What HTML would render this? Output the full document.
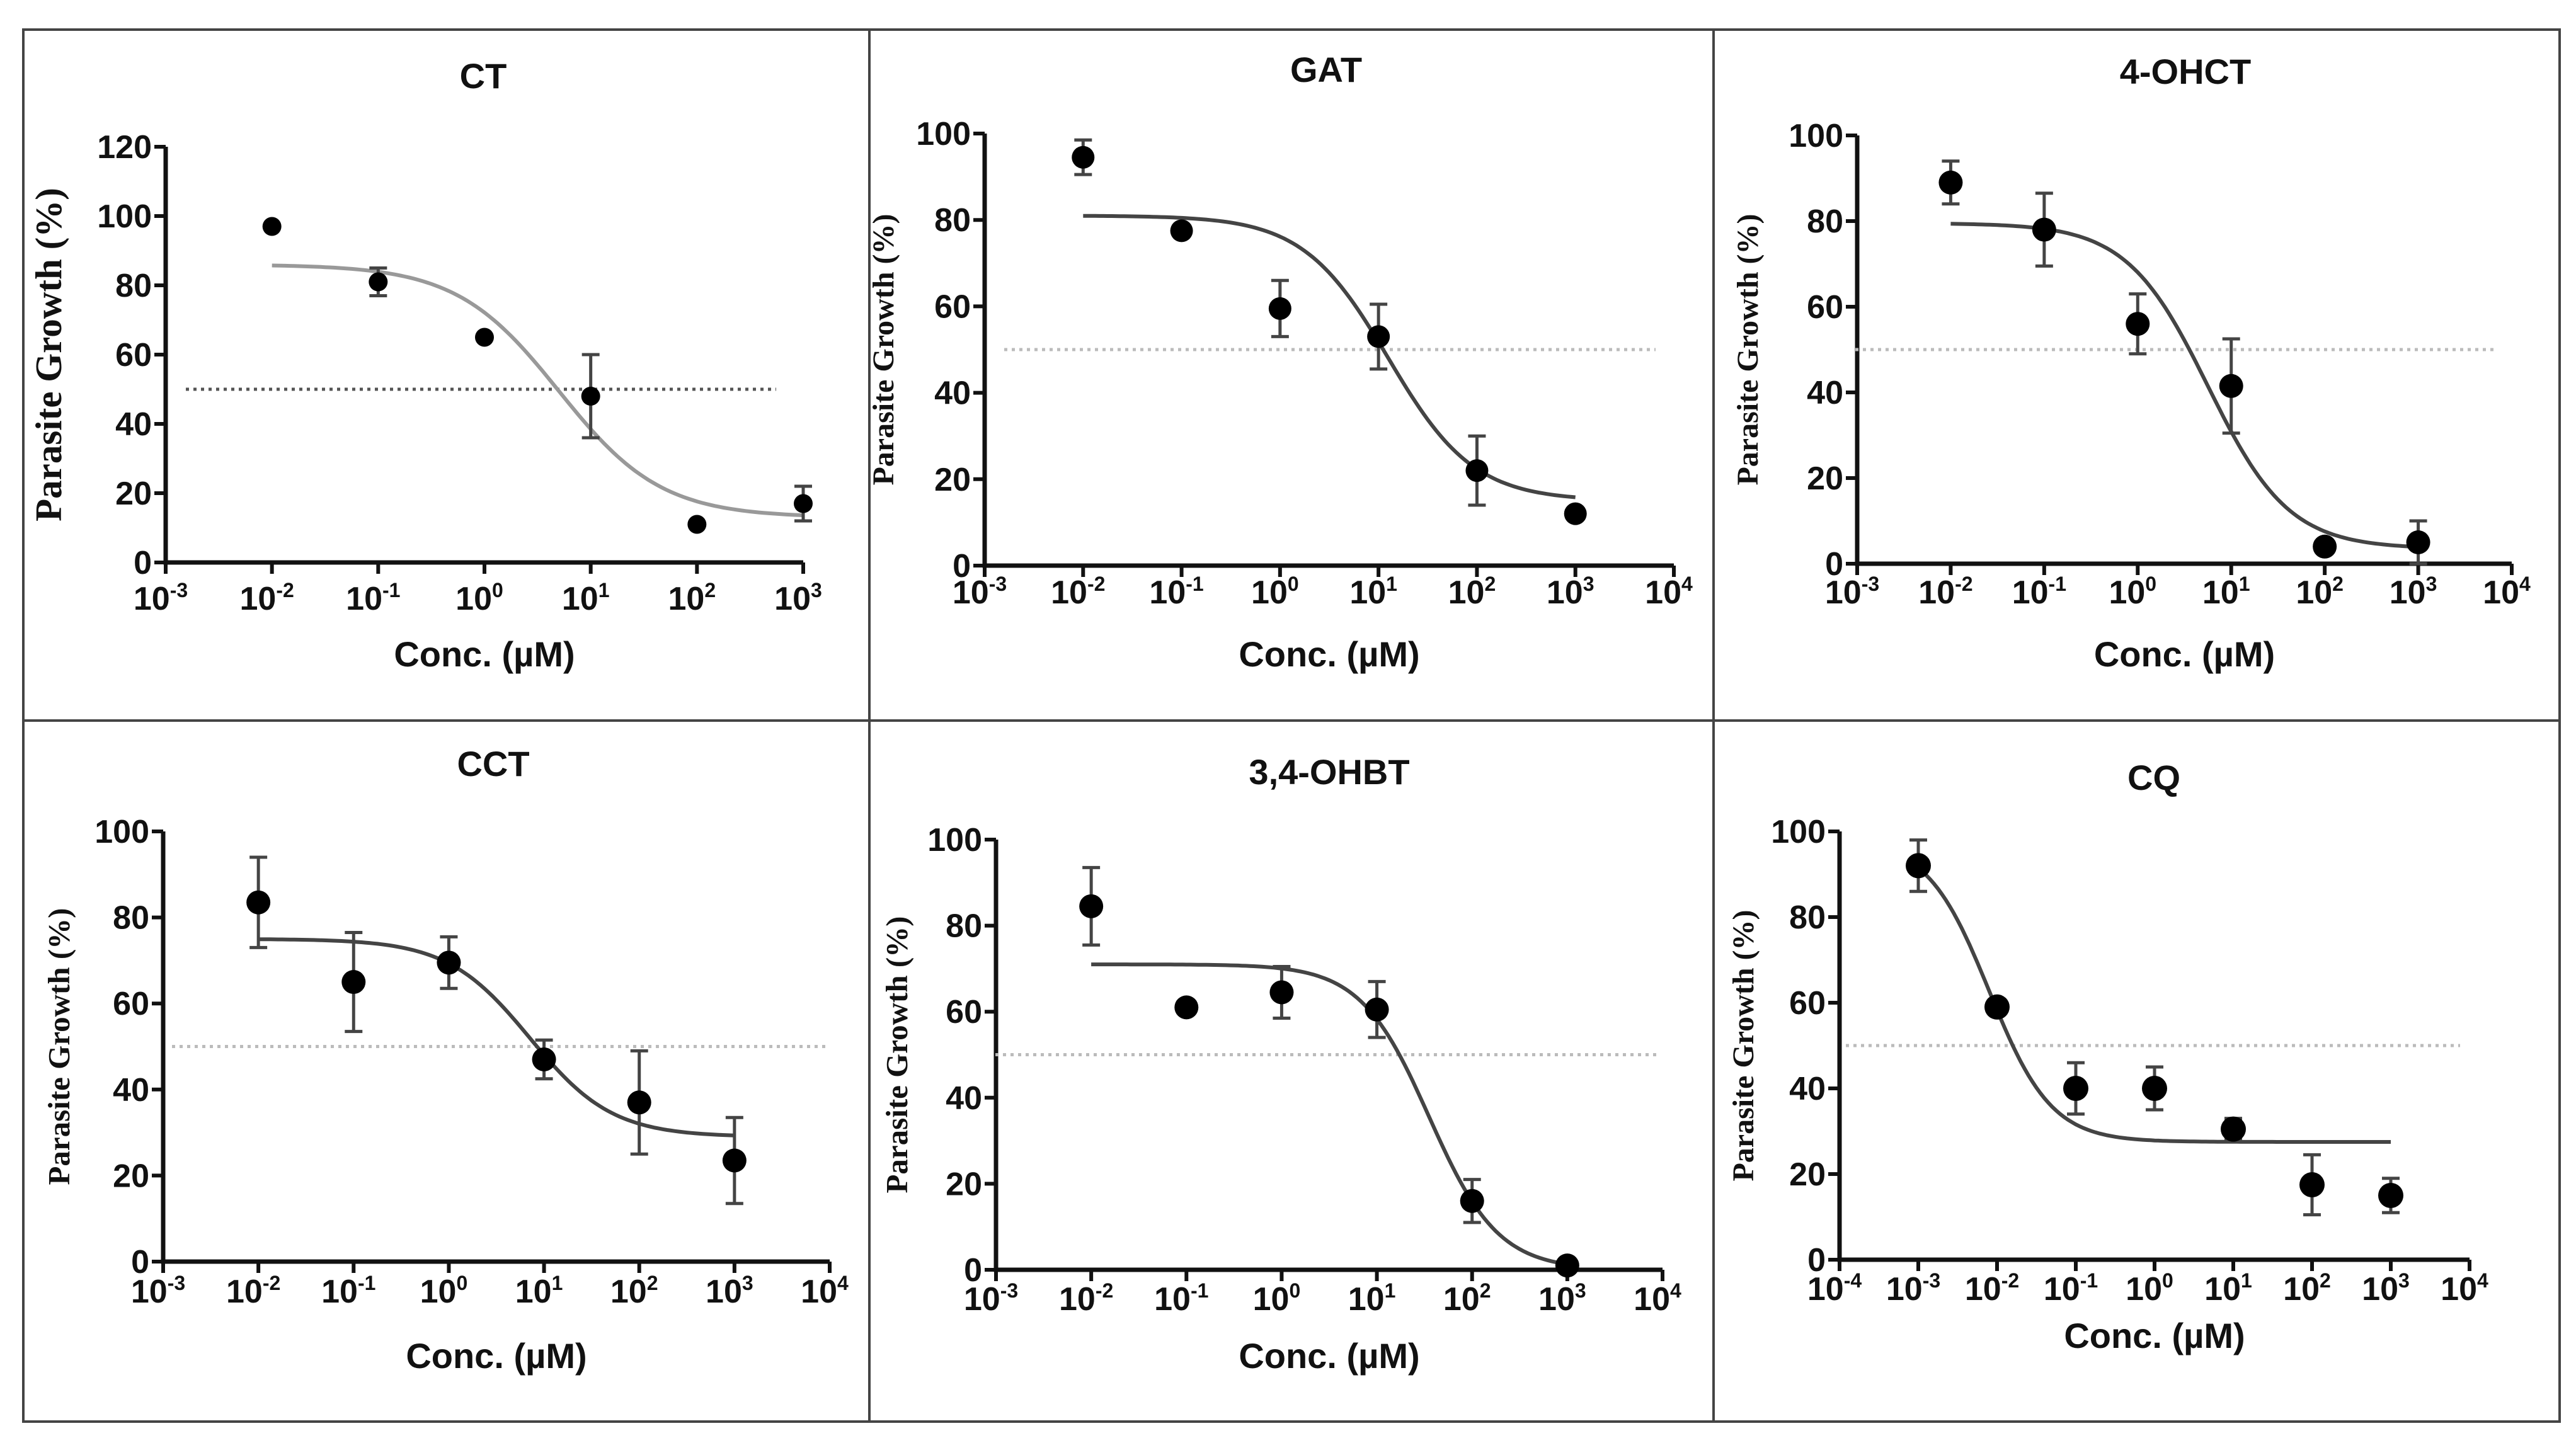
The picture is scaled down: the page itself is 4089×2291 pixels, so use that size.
<!DOCTYPE html>
<html><head><meta charset="utf-8"><style>
html,body{margin:0;padding:0;background:#fff}
svg{display:block}
text{font-family:"Liberation Sans",sans-serif;font-weight:bold;fill:#111}
.yl{font-family:"Liberation Serif",serif}
</style></head><body>
<svg id="fig" width="4089" height="2291" viewBox="0 0 4089 2291" xmlns="http://www.w3.org/2000/svg">
<rect x="0" y="0" width="4089" height="2291" fill="#fff"/>
<g stroke="#444" stroke-width="4" fill="none">
<rect x="37" y="47" width="4026" height="2210"/>
<line x1="1380" y1="47" x2="1380" y2="2257"/>
<line x1="2720" y1="47" x2="2720" y2="2257"/>
<line x1="37" y1="1144" x2="4063" y2="1144"/>
</g>
</svg>
<script>
// data per panel
const ctX=[-2,-1,0,1,2,3];
const ctY=[97,81,65,48,11,17];
const ctErr=[0,4,0,12,0,5];
const ctFit=[86,13,0.7,0.9];
const gatX=[-2,-1,0,1,2,3];
const gatY=[94.5,77.5,59.5,53,22,12];
const gatErr=[4,0,6.5,7.5,8,0];
const gatFit=[81,15,1.1,1.0];
const ohctX=[-2,-1,0,1,2,3];
const ohctY=[89,78,56,41.5,4,5];
const ohctErr=[5,8.5,7,11,0,5];
const ohctFit=[79.5,3.5,0.75,1.0];
const cctX=[-2,-1,0,1,2,3];
const cctY=[83.5,65,69.5,47,37,23.5];
const cctErr=[10.5,11.5,6,4.5,12,10];
const cctFit=[75,29,0.85,1.0];
const ohbtX=[-2,-1,0,1,2,3];
const ohbtY=[84.5,61,64.5,60.5,16,1];
const ohbtErr=[9,0,6,6.5,5,0];
const ohbtFit=[71,0,1.55,1.2];
const cqX=[-3,-2,-1,0,1,2,3];
const cqY=[92,59,40,40,30.5,17.5,15];
const cqErr=[6,0,6,5,2.5,7,4];
const cqFit=[98,27.5,-2.1,1.1];
const ctYTicks=[0,20,40,60,80,100,120];
const stdYTicks=[0,20,40,60,80,100];

const panels=[
 {name:'ct',title:'CT',x0:263,x1:1275,emin:-3,emax:3,y0:893,yT:233,ymax:120,yticks:ctYTicks,xs:ctX,ys:ctY,es:ctErr,fit:ctFit,tx:767,ty:140,xly:1058,tly:968,ylx:97,dot0:295,dot1:1232,curve:'#999',r:15,ylab:'Parasite Growth (%)',yls:59},
 {name:'gat',title:'GAT',x0:1563,x1:2657,emin:-3,emax:4,y0:898,yT:212,ymax:100,yticks:stdYTicks,xs:gatX,ys:gatY,es:gatErr,fit:gatFit,tx:2105,ty:130,xly:1058,tly:958,ylx:1418,dot0:1594,dot1:2628,curve:'#444',r:18,ylab:'Parasite Growth (%)',yls:48},
 {name:'ohct',title:'4-OHCT',x0:2948,x1:3987,emin:-3,emax:4,y0:895,yT:215,ymax:100,yticks:stdYTicks,xs:ohctX,ys:ohctY,es:ohctErr,fit:ohctFit,tx:3469,ty:133,xly:1058,tly:958,ylx:2790,dot0:2945,dot1:3960,curve:'#444',r:19,ylab:'Parasite Growth (%)',yls:48},
 {name:'cct',title:'CCT',x0:259,x1:1317,emin:-3,emax:4,y0:2003,yT:1320,ymax:100,yticks:stdYTicks,xs:cctX,ys:cctY,es:cctErr,fit:cctFit,tx:783,ty:1232,xly:2172,tly:2068,ylx:110,dot0:273,dot1:1311,curve:'#444',r:19,ylab:'Parasite Growth (%)',yls:49},
 {name:'ohbt',title:'3,4-OHBT',x0:1581,x1:2639,emin:-3,emax:4,y0:2016,yT:1333,ymax:100,yticks:stdYTicks,xs:ohbtX,ys:ohbtY,es:ohbtErr,fit:ohbtFit,tx:2110,ty:1245,xly:2172,tly:2080,ylx:1440,dot0:1580,dot1:2630,curve:'#444',r:19,ylab:'Parasite Growth (%)',yls:49},
 {name:'cq',title:'CQ',x0:2920,x1:3920,emin:-4,emax:4,y0:2000,yT:1320,ymax:100,yticks:stdYTicks,xs:cqX,ys:cqY,es:cqErr,fit:cqFit,tx:3419,ty:1254,xly:2140,tly:2064,ylx:2783,dot0:2930,dot1:3905,curve:'#444',r:20,ylab:'Parasite Growth (%)',yls:48}
];
const NS='http://www.w3.org/2000/svg';
const svg=document.getElementById('fig');
function mk(tag,attrs,parent){const e=document.createElementNS(NS,tag);for(const k in attrs)e.setAttribute(k,attrs[k]);parent.appendChild(e);return e;}
panels.forEach(p=>{
 const g=mk('g',{},svg);
 
 
 const xs=v=>p.x0+(v-p.emin)/(p.emax-p.emin)*(p.x1-p.x0);
 const ys=v=>p.y0-v/p.ymax*(p.y0-p.yT);
 const t=mk('text',{x:p.tx,y:p.ty,'text-anchor':'middle','font-size':56},g);t.textContent=p.title;
 
 
 const ax=mk('path',{d:`M${p.x0} ${p.yT}V${p.y0}H${p.x1}`,stroke:'#111','stroke-width':7,fill:'none'},g);
 
 
 p.yticks.forEach(v=>{
  mk('line',{x1:p.x0-18,x2:p.x0,y1:ys(v),y2:ys(v),stroke:'#111','stroke-width':6},g);
  const l=mk('text',{x:p.x0-22,y:ys(v)+18,'text-anchor':'end','font-size':52},g);l.textContent=v;
  
  
 });
 for(let e=p.emin;e<=p.emax;e++){
  mk('line',{x1:xs(e),x2:xs(e),y1:p.y0,y2:p.y0+18,stroke:'#111','stroke-width':6},g);
  const l=mk('text',{x:xs(e)-8,y:p.tly,'text-anchor':'middle','font-size':52},g);
  
  
  l.appendChild(document.createTextNode('10'));
  const s=mk('tspan',{dy:-20,'font-size':32},l);s.textContent=String(e);
 }
 const xl=mk('text',{x:(p.x0+p.x1)/2,y:p.xly,'text-anchor':'middle','font-size':56},g);xl.textContent='Conc. (µM)';
 
 
 const yc=(p.y0+p.yT)/2;
 const yl=mk('text',{x:p.ylx,y:yc,'text-anchor':'middle',class:'yl','font-size':p.yls,transform:`rotate(-90 ${p.ylx} ${yc})`},g);yl.textContent=p.ylab;
 
 
 const dl=mk('line',{x1:p.dot0,x2:p.dot1,y1:ys(50),y2:ys(50),stroke:p.name==='ct'?'#555':'#bbb','stroke-width':5,'stroke-dasharray':'5 7'},g);
 
 
 const [top,bot,ic,h]=p.fit;
 let d='';const a=p.xs[0],b=p.xs[p.xs.length-1];
 for(let i=0;i<=120;i++){const x=a+(b-a)*i/120;const y=bot+(top-bot)/(1+Math.pow(10,h*(x-ic)));d+=(i?'L':'M')+xs(x).toFixed(1)+' '+ys(y).toFixed(1);}
 const c=mk('path',{d:d,stroke:p.curve,'stroke-width':6,fill:'none'},g);
 
 
 p.xs.forEach((x,i)=>{
  const cx=xs(x),cy=ys(p.ys[i]),e=p.es[i];
  if(e>0){
   const eb=mk('path',{d:`M${cx} ${ys(p.ys[i]+e)}V${ys(p.ys[i]-e)}M${cx-14} ${ys(p.ys[i]+e)}H${cx+14}M${cx-14} ${ys(p.ys[i]-e)}H${cx+14}`,stroke:'#444','stroke-width':5,fill:'none'},g);
   
   
  }
  const pt=mk('circle',{cx:cx,cy:cy,r:p.r,fill:'#000'},g);
  
  
 });
});
</script>
</body></html>
